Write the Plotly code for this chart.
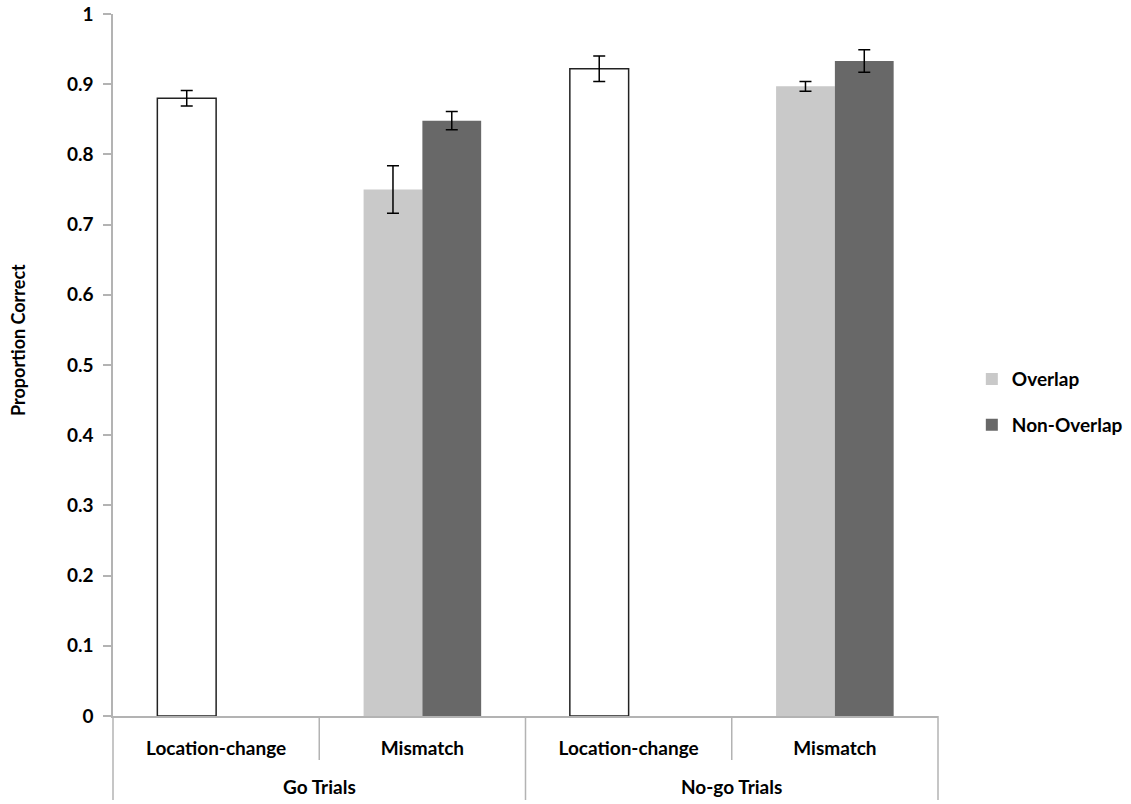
import plotly.graph_objects as go

# ---- data ----
groups = ["Go Trials", "No-go Trials"]
conditions = ["Location-change", "Mismatch"]
categories = [g + " | " + c for g in groups for c in conditions]
cat_labels = [c for g in groups for c in conditions]

loc_change_x = [categories[0], categories[2]]
loc_change = [0.880, 0.922]
loc_change_err = [0.011, 0.018]

mismatch_x = [categories[1], categories[3]]
overlap = [0.750, 0.897]
overlap_err = [0.034, 0.007]
non_overlap = [0.848, 0.933]
non_overlap_err = [0.013, 0.016]

y_ticks = [round(i * 0.1, 1) for i in range(11)]

FONT = "Lato"
FS = 19
AXIS_COL = "#b3b3b3"
bold = dict(family=FONT, size=FS, color="black", weight="bold")

fig = go.Figure()
fig.add_trace(go.Bar(
    x=loc_change_x, y=loc_change, name="Location-change", showlegend=False,
    offsetgroup="a",
    marker=dict(color="white", line=dict(color="#222222", width=1.5)),
    error_y=dict(type="data", array=loc_change_err, color="black", thickness=1.5, width=6),
))
fig.add_trace(go.Bar(
    x=mismatch_x, y=overlap, name="Overlap", offsetgroup="a", legendgroup="o",
    marker=dict(color="#c9c9c9", line=dict(width=0)),
    error_y=dict(type="data", array=overlap_err, color="black", thickness=1.5, width=6),
))
fig.add_trace(go.Bar(
    x=mismatch_x, y=non_overlap, name="Non-Overlap", offsetgroup="b", legendgroup="n",
    marker=dict(color="#686868", line=dict(width=0)),
    error_y=dict(type="data", array=non_overlap_err, color="black", thickness=1.5, width=6),
))

# category axis separators (axis decoration)
n = len(categories)
shapes = []
for i in range(n + 1):
    long_line = (i % len(conditions) == 0)
    shapes.append(dict(type="line", xref="paper", yref="paper",
                       x0=i / n, x1=i / n, y0=0, y1=-0.1197 if long_line else -0.0627,
                       line=dict(color=AXIS_COL, width=1.5)))

annotations = []
for gi, g in enumerate(groups):
    center = gi * len(conditions) + (len(conditions) - 1) / 2
    annotations.append(dict(text=g, x=center, xref="x", y=-0.101, yref="paper",
                            showarrow=False, yanchor="middle", xanchor="center",
                            font=bold))
annotations.append(dict(text="Proportion Correct", textangle=-90, x=-0.1152, xref="paper",
                        y=0.5356, yref="paper", showarrow=False,
                        xanchor="center", yanchor="middle",
                        font=dict(family=FONT, size=18, color="black", weight="bold")))

fig.update_layout(
    width=1131, height=804,
    margin=dict(l=113, r=193, t=14, b=88, autoexpand=False),
    paper_bgcolor="white", plot_bgcolor="white",
    barmode="group", bargap=0.43, bargroupgap=0,
    font=bold,
    shapes=shapes, annotations=annotations,
    legend=dict(x=1.041, y=0.447, xanchor="left", yanchor="middle",
                traceorder="grouped", tracegroupgap=18, font=bold),
    xaxis=dict(
        type="category", categoryorder="array", categoryarray=categories,
        tickmode="array", tickvals=categories, ticktext=cat_labels,
        showline=True, linecolor=AXIS_COL, linewidth=1.5, ticks="",
        showgrid=False, zeroline=False, ticklabelstandoff=14,
        tickfont=bold,
    ),
    yaxis=dict(
        range=[0, 1], tickmode="array", tickvals=y_ticks,
        ticktext=[("%g" % v) for v in y_ticks],
        showline=True, linecolor=AXIS_COL, linewidth=1.5,
        ticks="outside", ticklen=8, tickcolor=AXIS_COL, tickwidth=1.5,
        showgrid=False, zeroline=False, ticklabelstandoff=6,
        tickfont=bold,
    ),
)

fig.write_html("out.html", config={"displayModeBar": False},
               post_script="document.body.style.margin='0px';")
